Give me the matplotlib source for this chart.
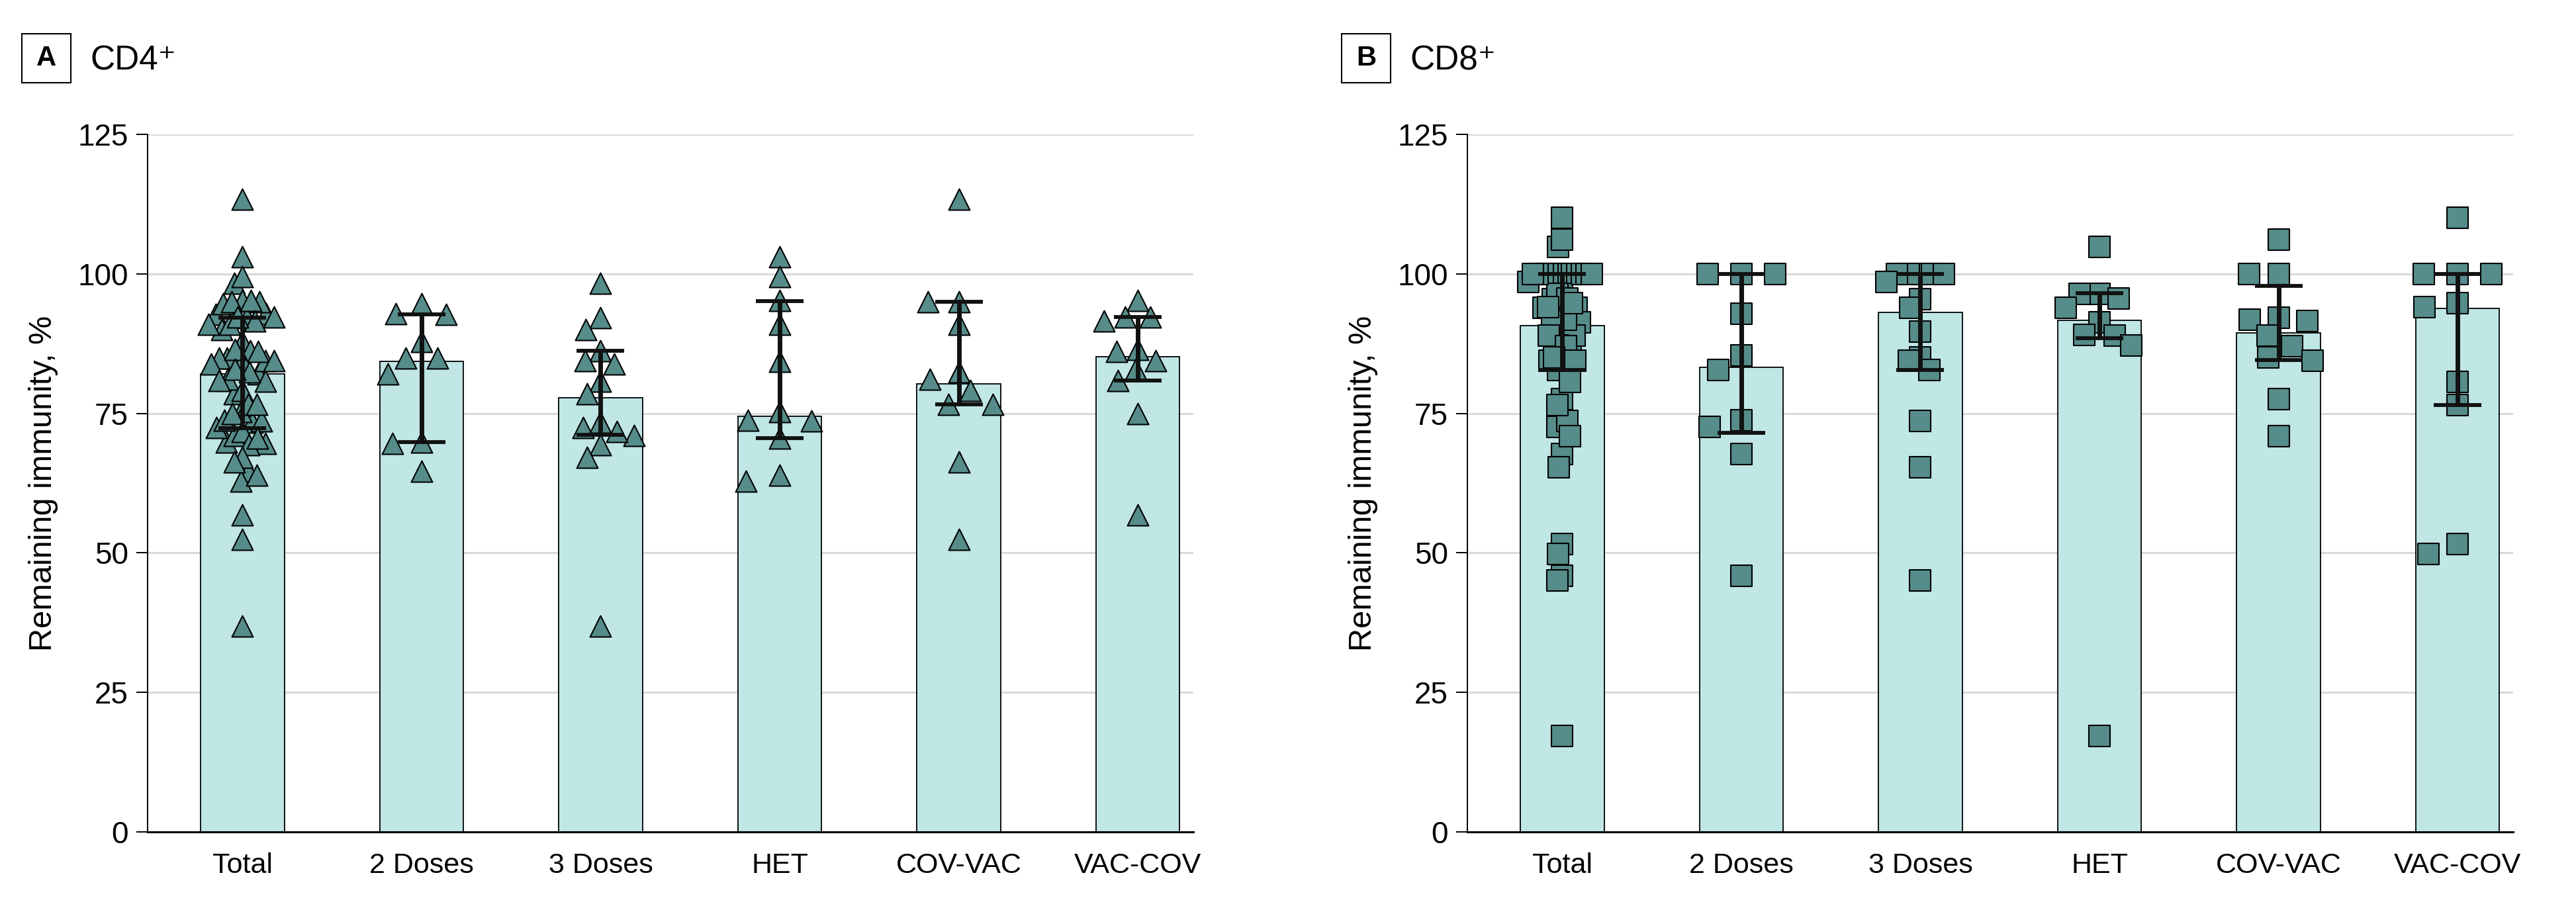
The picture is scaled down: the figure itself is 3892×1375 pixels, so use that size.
import numpy as np
import matplotlib
matplotlib.use("Agg")
import matplotlib.pyplot as plt
from matplotlib import font_manager
from matplotlib.patches import Rectangle

# ---------------- data ----------------
categories = ["Total", "2 Doses", "3 Doses", "HET", "COV-VAC", "VAC-COV"]

# CD4+ remaining immunity (%), per subgroup
cd4_2doses = [92.7, 84.9, 64.6, 92.9, 84.9, 69.9, 94.6, 87.9, 82.1, 69.6]
cd4_3doses = [98.3, 92.1, 90.0, 86.2, 84.4, 83.8, 80.8, 78.5, 72.5, 73.4, 71.0, 71.7, 69.4, 67.1, 36.9]
cd4_het = [103.1, 99.5, 95.2, 91.0, 84.3, 73.7, 73.8, 75.3, 70.6, 62.9, 63.9]
cd4_covvac = [113.4, 95.0, 95.0, 91.0, 82.4, 81.1, 79.1, 76.6, 76.6, 66.3, 52.4]
cd4_vaccov = [95.2, 91.5, 92.3, 92.3, 86.5, 86.1, 84.4, 82.9, 80.9, 74.9, 56.8]
cd4_median = [82.1, 84.3, 77.8, 74.5, 80.3, 85.1]
cd4_lower = [72.3, 69.9, 71.1, 70.6, 76.6, 80.9]
cd4_upper = [92.1, 92.7, 86.2, 95.1, 95.0, 92.3]

# CD8+ remaining immunity (%), per subgroup
cd8_2doses = [100.0, 100.0, 100.0, 92.9, 85.4, 82.8, 73.8, 72.6, 67.7, 45.9]
cd8_3doses = [100.0, 100.0, 100.0, 100.0, 100.0, 98.5, 95.5, 93.9, 89.6, 85.0, 82.8, 84.4, 73.7, 65.4, 45.1]
cd8_het = [104.8, 96.4, 96.4, 95.6, 93.9, 91.3, 89.1, 89.0, 87.2, 17.2]
cd8_covvac = [106.2, 100.0, 100.0, 92.2, 91.8, 91.5, 88.9, 87.0, 85.0, 84.4, 77.6, 70.9]
cd8_vaccov = [110.0, 100.0, 100.0, 100.0, 94.1, 94.7, 80.7, 76.5, 51.6, 49.8]
cd8_median = [90.7, 83.2, 93.1, 91.7, 89.4, 93.8]
cd8_lower = [82.8, 71.5, 82.8, 88.5, 84.5, 76.5]
cd8_upper = [100.0, 100.0, 100.0, 96.5, 97.9, 100.0]

yticks = [0, 25, 50, 75, 100, 125]
ylabel = "Remaining immunity, %"
panel_letters = ["A", "B"]
panel_titles = ["CD4\u207a", "CD8\u207a"]

# ---------------- styling ----------------
def has_font(name):
    try:
        font_manager.findfont(font_manager.FontProperties(family=name), fallback_to_default=False)
        return True
    except Exception:
        return False

REG = "Liberation Sans" if has_font("Liberation Sans") else "DejaVu Sans"
if has_font("Liberation Sans Narrow"):
    NARROW, nscale = "Liberation Sans Narrow", 1.0
else:
    NARROW, nscale = REG, 0.86

BAR_COLOR = "#c0e6e5"
MK_COLOR = "#568c8a"
GRID_COLOR = "#d9d9d9"

W, H = 3892, 1375
fig = plt.figure(figsize=(W / 100, H / 100), dpi=100)

XPX = 270.5   # px per category unit
YPX = 8.43    # px per % unit


def swarm(vals, d=30.0, half_width=51.0):
    vals = np.asarray(vals, float)
    order = np.argsort(-vals, kind="stable")
    placed = []
    offs = np.zeros(len(vals))
    for idx in order:
        y = vals[idx] * YPX
        cands = [0.0]
        for px, py in placed:
            dy = y - py
            if abs(dy) < d:
                dx = np.sqrt(d * d - dy * dy)
                cands += [px + dx, px - dx]
        cands = sorted(cands, key=lambda c: (abs(c), c))
        chosen = 0.0
        for c in cands:
            if all((c - px) ** 2 + (y - py) ** 2 >= d * d - 1e-6 for px, py in placed):
                chosen = c
                break
        placed.append((chosen, y))
        offs[idx] = chosen
    m = np.max(np.abs(offs))
    if m > 0:
        offs = offs * half_width / m
    return offs / XPX


def fx(px):
    return px / W


def fy(py):
    return 1 - py / H


def draw_panel(left_px, groups, med, lo, hi, marker, letter, title):
    ax = fig.add_axes([fx(left_px), fy(1257), 1580 / W, (1257 - 203) / H])
    x = np.arange(len(categories))
    med = np.asarray(med)
    lo = np.asarray(lo)
    hi = np.asarray(hi)
    ax.bar(x, med, width=0.467, color=BAR_COLOR, edgecolor="black", linewidth=1.3, zorder=2)
    for i, vals in enumerate(groups):
        offs = swarm(vals)
        ax.scatter(i + offs, vals, marker=marker, s=23 ** 2, c=MK_COLOR,
                   edgecolors="black", linewidths=1.5, zorder=3)
    ax.errorbar(x, med, yerr=[med - lo, hi - med], fmt="none", ecolor="#111111",
                elinewidth=5.0, capsize=26, capthick=4.2, zorder=4)
    ax.set_xlim(-0.53, 5.31)
    ax.set_ylim(0, 125)
    ax.set_yticks(yticks)
    ax.set_xticks(x)
    ax.set_xticklabels(categories, fontsize=36 * nscale, family=NARROW)
    for lab in ax.get_yticklabels():
        lab.set_fontsize(33)
        lab.set_family(REG)
    ax.tick_params(axis="x", length=0, pad=22)
    ax.tick_params(axis="y", length=12, width=1.4, pad=9)
    ax.yaxis.grid(True, color=GRID_COLOR, linewidth=2.2)
    ax.set_axisbelow(True)
    for s in ["top", "right"]:
        ax.spines[s].set_visible(False)
    ax.spines["left"].set_linewidth(1.4)
    ax.spines["bottom"].set_linewidth(2.2)
    # y label
    fig.text(fx(left_px - 157), fy(730), ylabel, rotation=90, ha="center", va="center",
             fontsize=35, family=REG)
    # panel header
    bx = left_px - 190
    fig.patches.append(Rectangle((fx(bx), fy(125)), 74 / W, 74 / H, transform=fig.transFigure,
                                 fill=False, edgecolor="black", linewidth=1.5))
    fig.text(fx(bx + 37), fy(88), letter, ha="center", va="center", fontsize=35 * nscale,
             fontweight="bold", family=NARROW)
    fig.text(fx(bx + 103), fy(106), title, ha="left", va="baseline", fontsize=43 * nscale,
             family=[NARROW, "DejaVu Sans"])
    return ax


cd4_groups = [cd4_2doses + cd4_3doses + cd4_het + cd4_covvac + cd4_vaccov,
              cd4_2doses, cd4_3doses, cd4_het, cd4_covvac, cd4_vaccov]
cd8_groups = [cd8_2doses + cd8_3doses + cd8_het + cd8_covvac + cd8_vaccov,
              cd8_2doses, cd8_3doses, cd8_het, cd8_covvac, cd8_vaccov]

draw_panel(223, cd4_groups, cd4_median, cd4_lower, cd4_upper, "^", panel_letters[0], panel_titles[0])
draw_panel(2217, cd8_groups, cd8_median, cd8_lower, cd8_upper, "s", panel_letters[1], panel_titles[1])

fig.savefig("out.png", dpi=100)
